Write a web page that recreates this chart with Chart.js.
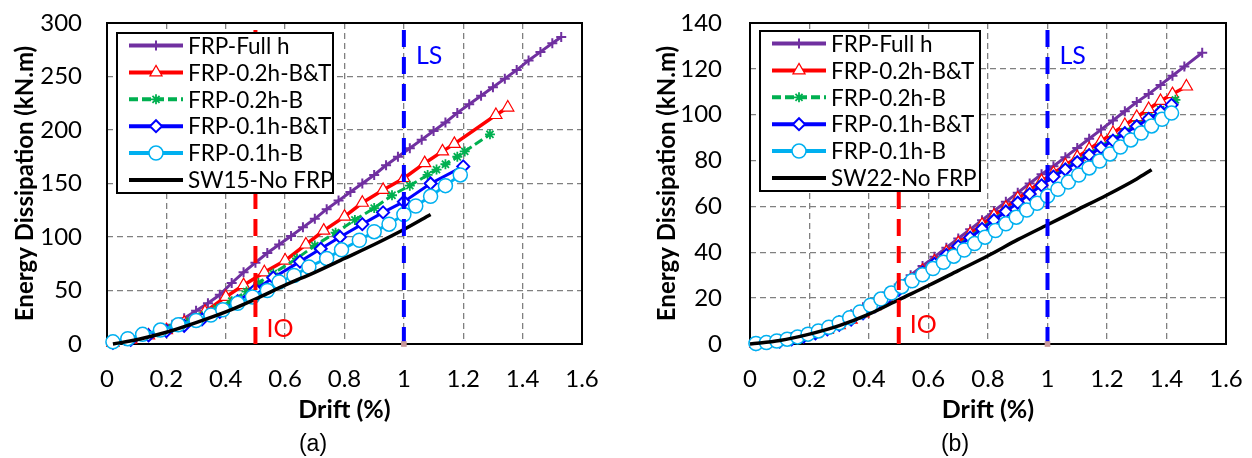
<!DOCTYPE html>
<html>
<head>
<meta charset="utf-8">
<script src="https://cdn.jsdelivr.net/npm/chart.js"></script>
<style>
body { margin:0; background:#fff; width:1252px; height:458px; position:relative; overflow:hidden; }
.box { position:absolute; top:0; width:626px; height:458px; }
.cap { position:absolute; top:429px; width:60px; text-align:center; line-height:28px;
       font-family:"Liberation Sans", Arial, sans-serif; font-size:23px; color:#000; }
</style>
</head>
<body>
<div class="box" style="left:0"><canvas id="chartA"></canvas></div>
<div class="box" style="left:626px"><canvas id="chartB"></canvas></div>
<div class="cap" style="left:283px">(a)</div>
<div class="cap" style="left:925px">(b)</div>
<script>
// ---- (a) SW15 series: drift (%) and energy dissipation (kN.m) ----
var driftFullA = [0.02,0.06,0.10,0.14,0.18,0.22,0.26,0.30,0.34,0.38,0.42,0.46,0.50,0.54,0.58,0.62,0.66,0.70,0.74,0.78,0.82,0.86,0.90,0.94,0.98,1.02,1.06,1.10,1.14,1.18,1.22,1.26,1.30,1.34,1.38,1.42,1.46,1.50,1.53];
var energyFullA = [1,3,6,9,13,18,24,31,38,46,57,67,76,85,93,101,109,117,126,134,142,150,158,167,175,183,191,199,207,216,224,232,240,248,256,265,273,281,287];

var drift02BTA = [0.02,0.08,0.14,0.20,0.26,0.33,0.40,0.46,0.53,0.60,0.67,0.73,0.80,0.86,0.93,1.00,1.07,1.13,1.17,1.31,1.35];
var energy02BTA = [1,4,8,13,20,30,44,55,67,78,93,106,119,132,144,155,169,180,187,214,221];

var drift02BA = [0.02,0.07,0.12,0.17,0.22,0.27,0.32,0.37,0.42,0.47,0.51,0.56,0.64,0.70,0.77,0.835,0.90,0.96,1.02,1.08,1.11,1.14,1.18,1.205,1.29];
var energy02BA = [1,4,7.5,11,15,20,26,33,40,49,57,66,80,92,104,116,127,139,148,158,163,168,175,180,196];

var drift01BTA = [0.02,0.08,0.14,0.20,0.26,0.32,0.38,0.44,0.50,0.56,0.65,0.72,0.785,0.86,0.93,1.00,1.09,1.20];
var energy01BTA = [1,4,8,12,17,23,30,40,51,62,77,89,100,112,123,133,150,166];

var drift01BA = [0.02,0.07,0.12,0.18,0.24,0.30,0.35,0.39,0.44,0.49,0.54,0.58,0.63,0.68,0.74,0.79,0.85,0.90,0.95,1.00,1.04,1.09,1.14,1.19];
var energy01BA = [2,5,9,13,18,22,27,32,38,44,50,58,64,72,80,88,97,105,112,121,129,138,148,158];

var driftNoA = [0.02,0.1,0.2,0.3,0.4,0.5,0.6,0.7,0.8,0.9,1.0,1.09];
var energyNoA = [0,4,11,20,30,42,55,67,80,93,107,121];

// ---- (b) SW22 series ----
var driftFullB = [0.02,0.06,0.10,0.14,0.18,0.22,0.26,0.30,0.34,0.38,0.42,0.46,0.50,0.54,0.58,0.62,0.66,0.70,0.74,0.78,0.82,0.86,0.90,0.94,0.98,1.02,1.06,1.10,1.14,1.18,1.22,1.26,1.30,1.34,1.38,1.42,1.46,1.52];
var energyFullB = [0.2,0.9,1.8,3,4.5,6.2,8.2,10.5,13,16,19,22.5,26,30,34,38,42,46,50,54,58,62,66,70,74,77.5,81.5,85.5,89.5,93.5,97.5,101.5,105.5,109,113,117,121,127];

var drift02BTB = [0.02,0.06,0.10,0.14,0.18,0.22,0.26,0.30,0.34,0.38,0.42,0.46,0.50,0.54,0.58,0.62,0.66,0.70,0.74,0.78,0.82,0.86,0.90,0.94,0.98,1.02,1.06,1.10,1.14,1.18,1.22,1.26,1.30,1.34,1.38,1.42,1.467];
var energy02BTB = [0,0.4,1,1.8,3,4.4,6.2,8.2,10.6,13.3,16.5,20,24,28,32,36,40,44,48,52,56,59.5,63.5,67,71,74.5,78,81.5,85,88.5,92,95.5,99,102.5,106,109,112.3];

var drift02BB = [0.02,0.06,0.10,0.14,0.18,0.22,0.26,0.30,0.34,0.38,0.42,0.46,0.50,0.54,0.58,0.62,0.66,0.70,0.74,0.78,0.82,0.86,0.90,0.94,0.98,1.02,1.06,1.10,1.14,1.18,1.22,1.26,1.30,1.34,1.38,1.43];
var energy02BB = [0,0.5,1.1,2,3.2,4.6,6.4,8.5,10.9,13.6,16.7,20.2,24,27.8,31.6,35.4,39.2,43,46.8,50.6,54.4,58.2,62,65.8,69.6,73.4,76.6,79.8,83,86.2,89.4,92.6,95.8,99,102.2,106.5];

var drift01BTB = [0.02,0.06,0.10,0.14,0.18,0.22,0.26,0.30,0.34,0.38,0.42,0.46,0.50,0.54,0.58,0.62,0.66,0.70,0.74,0.78,0.82,0.86,0.90,0.94,0.98,1.02,1.06,1.10,1.14,1.18,1.22,1.26,1.30,1.34,1.38,1.417];
var energy01BTB = [0,0.5,1.1,2,3.2,4.6,6.4,8.4,10.7,13.4,16.4,19.9,23.6,27.4,31.2,35,38.8,42.6,46.4,50.2,54,57.8,61.6,65.4,69.2,73,76.1,79.3,82.4,85.6,88.7,91.9,95,98.2,101.3,104.3];

var drift01BB = [0.02,0.055,0.09,0.125,0.16,0.195,0.23,0.265,0.30,0.335,0.37,0.405,0.44,0.475,0.51,0.545,0.58,0.615,0.65,0.685,0.72,0.755,0.79,0.825,0.86,0.895,0.93,0.965,1.00,1.035,1.07,1.105,1.14,1.175,1.21,1.245,1.28,1.315,1.35,1.385,1.417];
var energy01BB = [0.2,0.6,1.3,2.1,3.1,4.3,5.7,7.3,9.2,11.5,14,16.9,19.6,22.2,25,27.6,30.2,32.9,35.6,38.3,41,43.8,46.6,49.5,52.4,55.3,58.4,61.4,64.5,67.5,70.6,73.7,76.8,79.8,82.9,85.9,89,92,95.1,98,100.7];

var driftNoB = [0,0.1,0.2,0.3,0.4,0.5,0.6,0.7,0.8,0.9,1.0,1.1,1.2,1.3,1.35];
var energyNoB = [0,1.5,4.3,8,13,19.3,25.5,32,38.5,45.5,52,58.5,65,72,76];

var labelsA = ['FRP-Full h','FRP-0.2h-B&T','FRP-0.2h-B','FRP-0.1h-B&T','FRP-0.1h-B','SW15-No FRP'];
var labelsB = ['FRP-Full h','FRP-0.2h-B&T','FRP-0.2h-B','FRP-0.1h-B&T','FRP-0.1h-B','SW22-No FRP'];
var xTickLabels = ['0','0.2','0.4','0.6','0.8','1','1.2','1.4','1.6'];
var limitDrift = [0.5, 1.0];
var limitNames = ['IO', 'LS'];

// look of each series, same order as the labels
var seriesStyle = [
  {color:'#7030a0', point:'cross',    r:5, pw:2,   bg:'#7030a0', lw:3,   dash:[]},
  {color:'#ff0000', point:'triangle', r:7, pw:1.2, bg:'#ffffff', lw:3.5, dash:[]},
  {color:'#00b050', point:'star',     r:5, pw:1.8, bg:'#00b050', lw:3,   dash:[9,4]},
  {color:'#0000ff', point:'rectRot',  r:6, pw:2,   bg:'#ffffff', lw:3,   dash:[]},
  {color:'#00b0f0', point:'circle',   r:7, pw:1.5, bg:'#ffffff', lw:3,   dash:[]},
  {color:'#000000', point:false,      r:0, pw:0,   bg:'#000000', lw:3.5, dash:[]}
];
var limitColor = ['#ff0000', '#0000ff'];
var FONT = 'Lato';

function pts(xs, ys) {
  return xs.map(function(x, i) { return {x: x, y: ys[i]}; });
}

function buildSets(labels, series, yMax) {
  var sets = series.map(function(s, i) {
    var st = seriesStyle[i];
    return {
      label: labels[i], data: pts(s[0], s[1]),
      borderColor: st.color, borderWidth: st.lw, borderDash: st.dash,
      pointStyle: st.point, pointRadius: st.r, pointBorderWidth: st.pw,
      pointBorderColor: st.color, pointBackgroundColor: st.bg,
      legendRadius: st.r, inLegend: true,
      cubicInterpolationMode: st.point ? 'default' : 'monotone',
      tension: 0, clip: false, order: 10 - i   // later series drawn on top, like Excel
    };
  });
  limitDrift.forEach(function(d, i) {
    sets.push({
      label: limitNames[i], data: [{x: d, y: 0}, {x: d, y: yMax}],
      borderColor: limitColor[i], borderWidth: 4, borderDash: [17, 10],
      pointRadius: [i == 1 ? 4 : 0, 0], pointStyle: 'rect',
      pointBackgroundColor: '#c99a9a', pointBorderWidth: 0,
      inLegend: false, clip: false, order: 0
    });
  });
  return sets;
}

// black frame round the plot area
var frame = {
  id: 'frame',
  beforeDatasetsDraw: function(chart) {
    var a = chart.chartArea, ctx = chart.ctx;
    ctx.save();
    ctx.strokeStyle = '#000'; ctx.lineWidth = 2;
    ctx.strokeRect(a.left, a.top, a.right - a.left, a.bottom - a.top);
    ctx.restore();
  }
};

// IO / LS words next to the limit lines
var limitText = {
  id: 'limitText',
  afterDatasetsDraw: function(chart, args, opts) {
    var ctx = chart.ctx, a = chart.chartArea, xs = chart.scales.x;
    ctx.save();
    ctx.font = '25px ' + FONT;
    ctx.textBaseline = 'middle'; ctx.textAlign = 'left';
    ctx.fillStyle = limitColor[0];
    ctx.fillText(limitNames[0], xs.getPixelForValue(limitDrift[0]) + 11, a.bottom - opts.ioUp);
    ctx.fillStyle = limitColor[1];
    ctx.fillText(limitNames[1], xs.getPixelForValue(limitDrift[1]) + 12, a.top + 33);
    ctx.restore();
  }
};

// boxed legend inside the plot, line + marker like the original
var boxLegend = {
  id: 'boxLegend',
  afterDraw: function(chart, args, opts) {
    var ctx = chart.ctx, a = chart.chartArea;
    var x0 = a.left + 10, y0 = a.top + opts.dy;
    ctx.save();
    ctx.fillStyle = '#fff'; ctx.fillRect(x0, y0, opts.w, 160);
    ctx.strokeStyle = '#000'; ctx.lineWidth = 2; ctx.strokeRect(x0, y0, opts.w, 160);
    var sets = chart.data.datasets.filter(function(d) { return d.inLegend; });
    sets.forEach(function(ds, i) {
      var y = y0 + 12.5 + i * 26.9;
      ctx.setLineDash(ds.borderDash);
      ctx.strokeStyle = ds.borderColor; ctx.lineWidth = 4;
      ctx.beginPath(); ctx.moveTo(x0 + 12, y); ctx.lineTo(x0 + 66, y); ctx.stroke();
      ctx.setLineDash([]);
      if (ds.pointStyle && Chart.helpers && Chart.helpers.drawPoint) {
        ctx.fillStyle = ds.pointBackgroundColor;
        ctx.strokeStyle = ds.pointBorderColor;
        ctx.lineWidth = ds.pointBorderWidth;
        Chart.helpers.drawPoint(ctx, {pointStyle: ds.pointStyle, radius: ds.legendRadius,
          borderWidth: ds.pointBorderWidth, rotation: 0}, x0 + 39, y);
      }
      ctx.fillStyle = '#000'; ctx.font = '22.5px ' + FONT;
      ctx.textBaseline = 'middle'; ctx.textAlign = 'left';
      ctx.fillText(ds.label, x0 + 71, y + 1);
    });
    ctx.restore();
  }
};

function makeChart(id, sets, o) {
  return new Chart(document.getElementById(id), {
    type: 'line',
    data: { datasets: sets },
    options: {
      animation: false, responsive: true, maintainAspectRatio: false,
      layout: { padding: { left: 0, top: 23, right: o.padRight, bottom: 0 } },
      plugins: {
        legend: { display: false }, tooltip: { enabled: false },
        boxLegend: { dy: o.legDy, w: o.legW },
        limitText: { ioUp: o.ioUp }
      },
      scales: {
        x: {
          type: 'linear', min: 0, max: 1.6,
          ticks: { stepSize: 0.2, padding: 21, color: '#000', font: { family: FONT, size: 24 },
                   callback: function(v, i) { return xTickLabels[i]; } },
          grid: { color: '#808080', lineWidth: 1.3, drawTicks: false },
          border: { display: false, dash: [6, 4] },
          title: { display: true, text: 'Drift (%)', color: '#000',
                   font: { family: FONT, size: 25, weight: 'bold' }, padding: { top: 0, bottom: 33 } },
          afterFit: function(s) { s.height = 114; s.paddingLeft = 0; s.paddingRight = 0; }
        },
        y: {
          min: 0, max: o.yMax,
          ticks: { stepSize: o.yStep, padding: o.tickPad, color: '#000', font: { family: FONT, size: 24 } },
          grid: { color: '#808080', lineWidth: 1.3, drawTicks: false },
          border: { display: false, dash: [6, 4] },
          title: { display: true, text: 'Energy Dissipation (kN.m)', color: '#000',
                   font: { family: FONT, size: 24, weight: 'bold' }, padding: { top: o.titlePad, bottom: 0 } },
          afterFit: function(s) { s.width = o.axisW; s.paddingTop = 0; s.paddingBottom = 0; }
        }
      }
    },
    plugins: [frame, limitText, boxLegend]
  });
}

var setsA = buildSets(labelsA, [
  [driftFullA, energyFullA], [drift02BTA, energy02BTA], [drift02BA, energy02BA],
  [drift01BTA, energy01BTA], [drift01BA, energy01BA], [driftNoA, energyNoA]
], 300);
var setsB = buildSets(labelsB, [
  [driftFullB, energyFullB], [drift02BTB, energy02BTB], [drift02BB, energy02BB],
  [drift01BTB, energy01BTB], [drift01BB, energy01BB], [driftNoB, energyNoB]
], 140);

makeChart('chartA', setsA, { yMax: 300, yStep: 50, axisW: 107, padRight: 44, tickPad: 25,
  titlePad: 10.5, legDy: 10, legW: 216, ioUp: 15 });
makeChart('chartB', setsB, { yMax: 140, yStep: 20, axisW: 124, padRight: 26, tickPad: 28,
  titlePad: 26.5, legDy: 8, legW: 220, ioUp: 19 });
</script>
</body>
</html>
